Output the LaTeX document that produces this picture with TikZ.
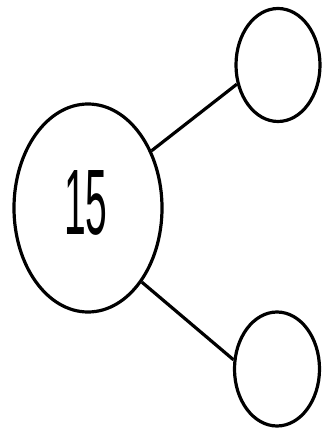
\documentclass[tikz,border=0pt]{standalone}
\usepackage{fontspec}
\newfontfamily\numfont{Liberation Sans}
\usetikzlibrary{shapes.geometric}
\begin{document}
\begin{tikzpicture}[x=1pt,y=1pt,
  circ/.style={draw=black,ellipse,line width=3.2pt,inner sep=0pt},
  conn/.style={draw=black,line width=3.2pt}]
\useasboundingbox (0,0) rectangle (322,428);
\node[circ,minimum width=148pt,minimum height=208pt] (big) at (88,220) {};
\node (num) at (86,225) {\scalebox{0.42}[1]{\numfont\fontsize{93}{93}\selectfont 15}};
\node[circ,minimum width=84pt,minimum height=113pt] (top) at (278,363) {};
\node[circ,minimum width=85pt,minimum height=114pt] (bot) at (277,59) {};
\draw[conn] (big.42) -- (top.205);
\draw[conn] (big.-54) -- (bot.168);
\end{tikzpicture}
\end{document}
